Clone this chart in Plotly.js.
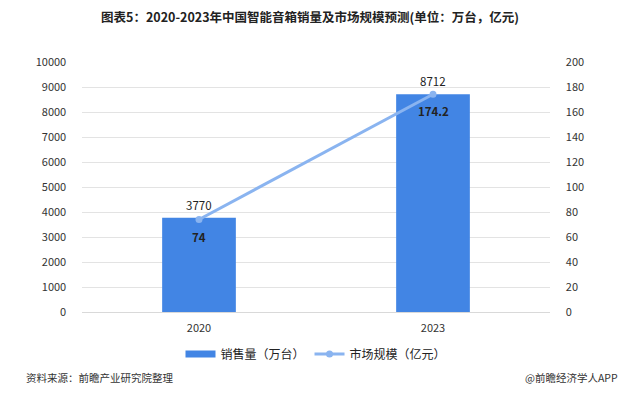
<!DOCTYPE html>
<html><head><meta charset="utf-8">
<script src="https://cdn.plot.ly/plotly-3.0.1.min.js"></script>
<style>html,body{margin:0;padding:0;background:#fff;}#chart{width:620px;height:397px;}</style>
</head><body><div id="chart"></div>
<script>
const categories = ['2020', '2023'];
const salesVolume = [3770, 8712];
const marketSize = [74, 174.2];
const salesLabels = ['3770', '8712'];
const marketLabels = ['74', '174.2'];

const font = '"Noto Sans CJK SC", "Noto Sans", sans-serif';
const data = [
  {type:'bar', x:categories, y:salesVolume, name:'销售量（万台）', marker:{color:'#4285E4'}, showlegend:false,
   width:0.315, hoverinfo:'none'},
  {type:'scatter', mode:'lines', x:categories, y:[null, null], name:'销售量（万台）', line:{color:'#4285E4', width:7}, hoverinfo:'none'},
  {type:'scatter', mode:'lines+markers', x:categories, y:marketSize, yaxis:'y2', name:'市场规模（亿元）',
   line:{color:'#8AB4F0', width:3}, marker:{color:'#8AB4F0', size:7}, cliponaxis:false, hoverinfo:'none'}
];
const barLabels = categories.map((c, i) => ({
  text: salesLabels[i], x: i, y: salesVolume[i], xref:'x', yref:'y', showarrow:false,
  yshift:13, yanchor:'middle', font:{size:11.5, color:'#222', family:font}
}));
const lineLabels = categories.map((c, i) => ({
  text: '<b>' + marketLabels[i] + '</b>', x: i, y: marketSize[i], xref:'x', yref:'y2', showarrow:false,
  yshift:-17, yanchor:'middle', font:{size:11.5, color:'#222', family:font}
}));
const layout = {
  width:620, height:397, margin:{l:82, r:70, t:62, b:85},
  paper_bgcolor:'#fff', plot_bgcolor:'#fff', font:{family:font, size:11, color:'#333'},
  title:{text:'<b>图表5：2020-2023年中国智能音箱销量及市场规模预测(单位：万台，亿元)</b>', x:0.5, xanchor:'center', y:0.955, yanchor:'middle', font:{size:12.5, color:'#222', family:font}},
  xaxis:{type:'category', range:[-0.5, 1.5], showgrid:false, showline:true, linecolor:'#d9d9d9', ticks:'outside', ticklen:6, tickcolor:'rgba(0,0,0,0)', tickfont:{size:11,color:'#333'}},
  yaxis:{range:[0,10000], dtick:1000, tickformat:'d', showgrid:true, gridcolor:'#e3e3e3', zeroline:false, showline:false, ticks:'', tickfont:{size:11,color:'#333'}, ticksuffix:'      '},
  yaxis2:{range:[0,200], dtick:20, tickformat:'d', overlaying:'y', side:'right', showgrid:false, zeroline:false, showline:false, tickfont:{size:11,color:'#333'}, tickprefix:'      '},
  showlegend:true,
  legend:{orientation:'h', x:0.5, xanchor:'center', y:-0.11, yanchor:'top', font:{size:12,color:'#222'}, traceorder:'normal'},
  annotations: barLabels.concat(lineLabels).concat([
    {text:'资料来源：前瞻产业研究院整理', xref:'paper', yref:'paper', x:-0.125, y:-0.26, xanchor:'left', yanchor:'middle', showarrow:false, font:{size:10.5,color:'#333'}},
    {text:'@前瞻经济学人APP', xref:'paper', yref:'paper', x:1.15, y:-0.26, xanchor:'right', yanchor:'middle', showarrow:false, font:{size:10.5,color:'#333'}}
  ])
};
Plotly.newPlot('chart', data, layout, {displayModeBar:false, staticPlot:true});
</script></body></html>
